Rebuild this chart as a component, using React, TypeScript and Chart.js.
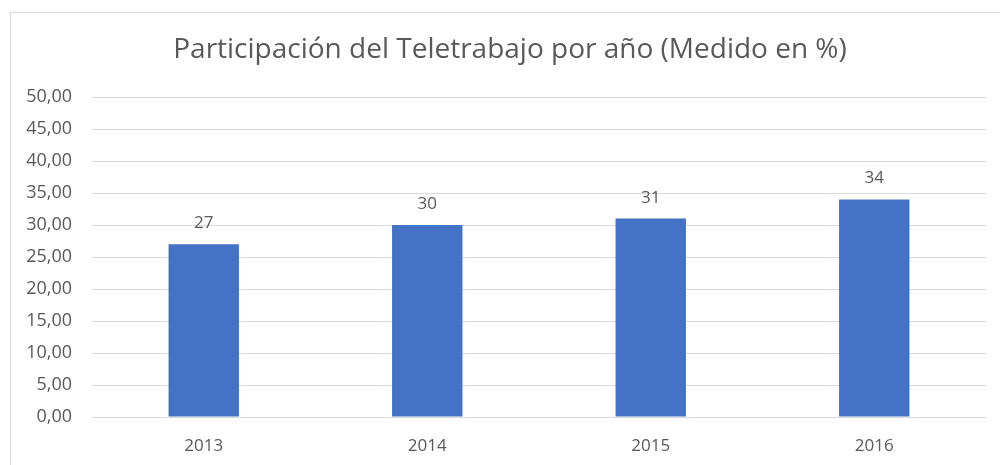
import React, { useEffect, useRef } from "react";
import { Chart, registerables } from "chart.js";

Chart.register(...registerables);

const TITLE = "Participación del Teletrabajo por año (Medido en %)";
const categories = ["2013", "2014", "2015", "2016"];
const values = [27, 30, 31, 34];
const yMin = 0;
const yMax = 50;
const yStep = 5;

const FONT = "'Open Sans', 'Liberation Sans', sans-serif";
const TEXT = "#595959";

const overlay = {
  id: "overlay",
  afterDraw(chart: any) {
    const ctx = chart.ctx;
    ctx.save();
    // title
    ctx.fillStyle = TEXT;
    ctx.font = `28px ${FONT}`;
    ctx.textAlign = "center";
    ctx.textBaseline = "alphabetic";
    ctx.fillText(TITLE, 510, 58);
    // data labels
    ctx.font = `17px ${FONT}`;
    const meta = chart.getDatasetMeta(0);
    meta.data.forEach((bar: any, i: number) => {
      ctx.fillText(String(values[i]), bar.x, bar.y - 16);
    });
    ctx.restore();
  },
};

export default function App() {
  const ref = useRef<HTMLCanvasElement | null>(null);
  useEffect(() => {
    if (!ref.current) return;
    const chart = new Chart(ref.current, {
      type: "bar",
      data: {
        labels: categories,
        datasets: [
          {
            data: values,
            backgroundColor: "#4472C4",
            borderWidth: 0,
            barPercentage: 0.315,
            categoryPercentage: 1,
          },
        ],
      },
      options: {
        animation: false,
        responsive: true,
        maintainAspectRatio: false,
        layout: { padding: { left: 10, top: 97, right: 14, bottom: 0 } },
        plugins: {
          legend: { display: false },
          tooltip: { enabled: false },
          title: { display: false },
        },
        scales: {
          x: {
            grid: { display: false },
            border: { display: false },
            ticks: {
              color: TEXT,
              font: { family: FONT, size: 17 },
              padding: 11,
            },
            afterFit(scale: any) {
              scale.height = 48;
            },
          },
          y: {
            min: yMin,
            max: yMax,
            grid: { color: "#d9d9d9", lineWidth: 1, drawTicks: false },
            border: { display: false },
            ticks: {
              stepSize: yStep,
              color: TEXT,
              font: { family: FONT, size: 18 },
              padding: 20,
              callback: (v: any) => Number(v).toFixed(2).replace(".", ","),
            },
            afterFit(scale: any) {
              scale.width = 82;
            },
          },
        },
      },
      plugins: [overlay],
    });
    return () => chart.destroy();
  }, []);

  return (
    <div style={{ position: "fixed", left: 0, top: 0, width: 1000, height: 465, background: "#fff" }}>
      <div
        style={{
          position: "absolute",
          left: 10,
          top: 12,
          right: 0,
          bottom: 0,
          borderLeft: "1px solid #d9d9d9",
          borderTop: "1px solid #d9d9d9",
        }}
      />
      <div style={{ position: "absolute", left: 0, top: 0, width: 1000, height: 465 }}>
        <canvas ref={ref} />
      </div>
    </div>
  );
}
